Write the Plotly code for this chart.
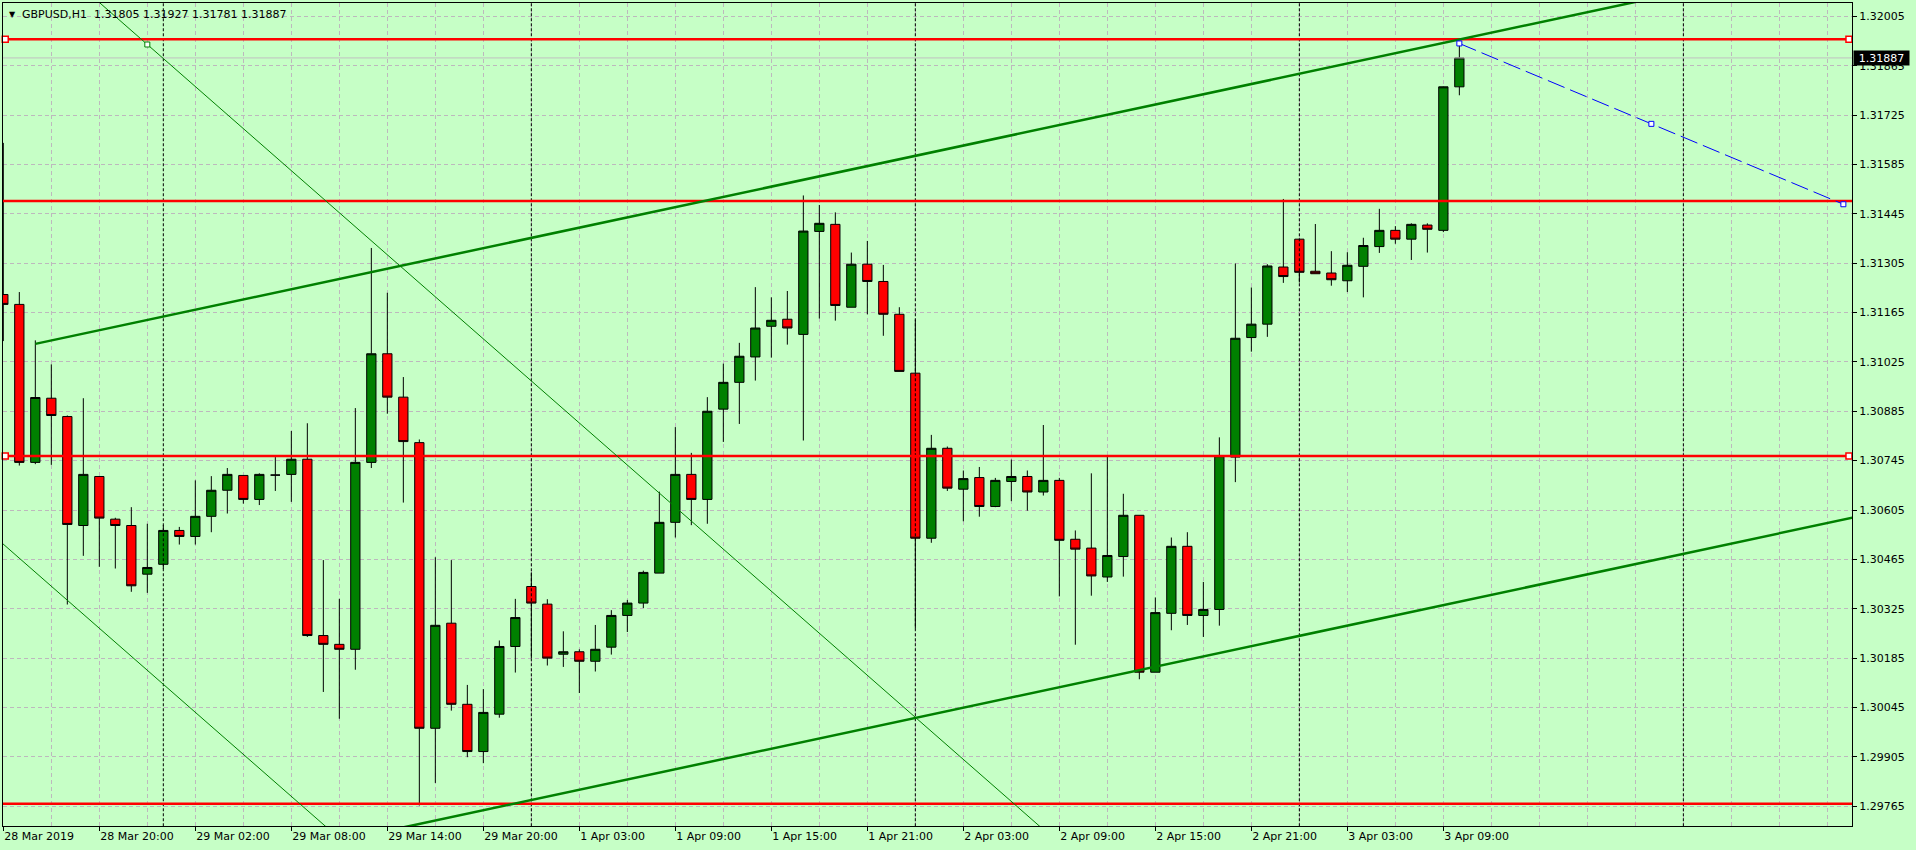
import plotly.graph_objects as go

# ---------------- data ----------------
symbol = "GBPUSD,H1"

opens = [1.31216, 1.31188, 1.30740, 1.30922, 1.30870, 1.30561, 1.30700, 1.30579, 1.30561, 1.30423,
         1.30451, 1.30547, 1.30530, 1.30587, 1.30661, 1.30703, 1.30635, 1.30704, 1.30706, 1.30749,
         1.30249, 1.30224, 1.30210, 1.30740, 1.31048, 1.30925, 1.30796, 1.29986, 1.30284, 1.30054,
         1.29920, 1.30026, 1.30218, 1.30388, 1.30338, 1.30196, 1.30203, 1.30176, 1.30216, 1.30306,
         1.30341, 1.30426, 1.30570, 1.30706, 1.30635, 1.30891, 1.30967, 1.31039, 1.31126, 1.31146,
         1.31103, 1.31395, 1.31415, 1.31180, 1.31302, 1.31253, 1.31160, 1.30993, 1.30525, 1.30780,
         1.30664, 1.30697, 1.30615, 1.30686, 1.30700, 1.30656, 1.30689, 1.30522, 1.30497, 1.30415,
         1.30473, 1.30590, 1.30145, 1.30312, 1.30502, 1.30306, 1.30323, 1.30755, 1.31094, 1.31132,
         1.31294, 1.31373, 1.31282, 1.31277, 1.31255, 1.31296, 1.31352, 1.31398, 1.31373, 1.31413,
         1.31398, 1.31805]
highs = [1.31646, 1.31223, 1.31086, 1.31018, 1.30873, 1.30922, 1.30701, 1.30583, 1.30613, 1.30566,
         1.30562, 1.30557, 1.30689, 1.30701, 1.30724, 1.30703, 1.30709, 1.30755, 1.30829, 1.30851,
         1.30463, 1.30353, 1.30894, 1.31348, 1.31221, 1.30982, 1.30805, 1.30471, 1.30463, 1.30109,
         1.30097, 1.30235, 1.30353, 1.30428, 1.30352, 1.30261, 1.30210, 1.30279, 1.30321, 1.30350,
         1.30433, 1.30657, 1.30840, 1.30767, 1.30925, 1.31020, 1.31079, 1.31237, 1.31208, 1.31226,
         1.31497, 1.31470, 1.31449, 1.31335, 1.31368, 1.31300, 1.31180, 1.31145, 1.30818, 1.30785,
         1.30717, 1.30727, 1.30696, 1.30748, 1.30717, 1.30846, 1.30696, 1.30547, 1.30709, 1.30760,
         1.30651, 1.30590, 1.30357, 1.30527, 1.30542, 1.30401, 1.30811, 1.31304, 1.31236, 1.31302,
         1.31487, 1.31373, 1.31416, 1.31339, 1.31336, 1.31377, 1.31459, 1.31410, 1.31418, 1.31418,
         1.31806, 1.31927]
lows = [1.31084, 1.30731, 1.30735, 1.30733, 1.30337, 1.30475, 1.30444, 1.30439, 1.30373, 1.30370,
        1.30438, 1.30507, 1.30507, 1.30542, 1.30595, 1.30623, 1.30619, 1.30659, 1.30628, 1.30245,
        1.30089, 1.30013, 1.30152, 1.30724, 1.30878, 1.30626, 1.29767, 1.29831, 1.30036, 1.29904,
        1.29887, 1.30016, 1.30144, 1.30185, 1.30164, 1.30160, 1.30086, 1.30147, 1.30195, 1.30259,
        1.30327, 1.30426, 1.30527, 1.30562, 1.30566, 1.30798, 1.30849, 1.30972, 1.31037, 1.31074,
        1.30802, 1.31148, 1.31142, 1.31180, 1.31160, 1.31099, 1.30998, 1.30269, 1.30512, 1.30659,
        1.30573, 1.30586, 1.30613, 1.30630, 1.30603, 1.30646, 1.30360, 1.30223, 1.30362, 1.30401,
        1.30416, 1.30125, 1.30145, 1.30264, 1.30279, 1.30245, 1.30277, 1.30684, 1.31054, 1.31096,
        1.31249, 1.31250, 1.31275, 1.31241, 1.31223, 1.31208, 1.31334, 1.31360, 1.31314, 1.31335,
        1.31393, 1.31781]
closes = [1.31188, 1.30740, 1.30924, 1.30873, 1.30564, 1.30706, 1.30582, 1.30561, 1.30390, 1.30442,
          1.30547, 1.30530, 1.30587, 1.30661, 1.30706, 1.30635, 1.30706, 1.30704, 1.30749, 1.30249,
          1.30224, 1.30210, 1.30740, 1.31048, 1.30925, 1.30799, 1.29986, 1.30278, 1.30054, 1.29920,
          1.30031, 1.30218, 1.30300, 1.30341, 1.30185, 1.30203, 1.30176, 1.30210, 1.30306, 1.30341,
          1.30428, 1.30570, 1.30706, 1.30635, 1.30885, 1.30967, 1.31041, 1.31121, 1.31143, 1.31121,
          1.31396, 1.31418, 1.31185, 1.31302, 1.31253, 1.31160, 1.30998, 1.30525, 1.30780, 1.30667,
          1.30694, 1.30615, 1.30689, 1.30700, 1.30656, 1.30689, 1.30519, 1.30494, 1.30418, 1.30476,
          1.30590, 1.30145, 1.30314, 1.30502, 1.30306, 1.30323, 1.30759, 1.31092, 1.31132, 1.31297,
          1.31267, 1.31279, 1.31275, 1.31258, 1.31299, 1.31355, 1.31398, 1.31373, 1.31415, 1.31401,
          1.31805, 1.31887]

# time axis labels (bar index -> label)
x_tick_index = [0, 6, 12, 18, 24, 30, 36, 42, 48, 54, 60, 66, 72, 78, 84, 90]
x_tick_text = ["28 Mar 2019", "28 Mar 20:00", "29 Mar 02:00", "29 Mar 08:00", "29 Mar 14:00",
               "29 Mar 20:00", "1 Apr 03:00", "1 Apr 09:00", "1 Apr 15:00", "1 Apr 21:00",
               "2 Apr 03:00", "2 Apr 09:00", "2 Apr 15:00", "2 Apr 21:00", "3 Apr 03:00",
               "3 Apr 09:00"]
# price axis labels
y_ticks = [1.29765, 1.29905, 1.30045, 1.30185, 1.30325, 1.30465, 1.30605, 1.30745, 1.30885,
           1.31025, 1.31165, 1.31305, 1.31445, 1.31585, 1.31725, 1.31865, 1.32005]
# day separators (bar index of 00:00)
day_separators = [10, 33, 57, 81, 105]

# horizontal levels
h_levels = [1.31940, 1.31481, 1.30758, 1.29772]
h_handles = [True, False, True, False]

# drawing objects: anchor (bar index, price)
channel_upper_x = [2, 91]
channel_upper_y = [1.31076, 1.31939]
channel_lower_x = [2, 91]
channel_lower_y = [1.29482, 1.30345]
trend_a_x = [9, 65]
trend_a_y = [1.31925, 1.29699]
trend_b_x = [0, 22]
trend_b_y = [1.30508, 1.29634]
proj_x = [91, 103, 115]
proj_y = [1.31928, 1.31700, 1.31472]

# ---------------- styling ----------------
BG = "#C6FFC6"
GRID = "#BDB8BD"
FONT = "DejaVu Sans"
FS = 11
Y_LO, Y_HI = 1.297089, 1.320427
X_LO, X_HI = -0.02, 115.54

fig = go.Figure()

# day separators (under candles)
for s in day_separators:
    fig.add_trace(go.Scatter(x=[s, s], y=[Y_LO - 0.001, Y_HI + 0.001], mode="lines",
                             line=dict(color="black", width=1, dash="3px,2px"),
                             hoverinfo="skip", showlegend=False))

# bid line
fig.add_trace(go.Scatter(x=[X_LO - 1, X_HI + 1], y=[closes[-1], closes[-1]], mode="lines",
                         line=dict(color="#C0C0C0", width=1), hoverinfo="skip", showlegend=False))

n = len(opens)
fig.add_trace(go.Candlestick(
    x=list(range(n)), open=opens, high=highs, low=lows, close=closes,
    increasing=dict(fillcolor="#008000", line=dict(color="black", width=1)),
    decreasing=dict(fillcolor="#FF0000", line=dict(color="black", width=1)),
    whiskerwidth=0, hoverinfo="skip", showlegend=False))


def extend(xs, ys, x0, x1):
    s = (ys[1] - ys[0]) / (xs[1] - xs[0])
    return [x0, x1], [ys[0] + s * (x0 - xs[0]), ys[0] + s * (x1 - xs[0])]


# horizontal red levels
for lv, hd in zip(h_levels, h_handles):
    fig.add_trace(go.Scatter(x=[X_LO - 1, X_HI + 1], y=[lv, lv], mode="lines",
                             line=dict(color="#FF0000", width=2.5), hoverinfo="skip", showlegend=False))
    if hd:
        fig.add_trace(go.Scatter(x=[0.12, 115.35], y=[lv, lv], mode="markers",
                                 marker=dict(symbol="square", size=6, color="white",
                                             line=dict(color="#FF0000", width=1.5)),
                                 cliponaxis=False, hoverinfo="skip", showlegend=False))

# equidistant channel
for cx, cy in [(channel_upper_x, channel_upper_y), (channel_lower_x, channel_lower_y)]:
    lx, ly = extend(cx, cy, cx[0], 140)
    fig.add_trace(go.Scatter(x=lx, y=ly, mode="lines", line=dict(color="#008000", width=2.5),
                             hoverinfo="skip", showlegend=False))

# thin trend lines
for tx, ty, a, b in [(trend_a_x, trend_a_y, -5, 80), (trend_b_x, trend_b_y, -5, 40)]:
    lx, ly = extend(tx, ty, a, b)
    fig.add_trace(go.Scatter(x=lx, y=ly, mode="lines", line=dict(color="#008000", width=1),
                             hoverinfo="skip", showlegend=False))
fig.add_trace(go.Scatter(x=[trend_a_x[0]], y=[trend_a_y[0]], mode="markers",
                         marker=dict(symbol="square", size=5, color="white",
                                     line=dict(color="#008000", width=1)),
                         hoverinfo="skip", showlegend=False))

# projection (blue dashed)
fig.add_trace(go.Scatter(x=proj_x, y=proj_y, mode="lines",
                         line=dict(color="#0000FF", width=1, dash="18px,6px"),
                         hoverinfo="skip", showlegend=False))
fig.add_trace(go.Scatter(x=proj_x, y=proj_y, mode="markers",
                         marker=dict(symbol="square", size=5, color="white",
                                     line=dict(color="#0000FF", width=1)),
                         cliponaxis=False, hoverinfo="skip", showlegend=False))

minor_grid = [v for v in range(0, 117, 3)]

fig.update_layout(
    width=1916, height=850,
    margin=dict(l=3, r=64, t=3, b=24),
    paper_bgcolor=BG, plot_bgcolor=BG,
    showlegend=False, hovermode=False,
    boxgap=0.42, boxgroupgap=0,
    font=dict(family=FONT, size=FS, color="black"),
)
fig.update_xaxes(
    range=[X_LO, X_HI], tickmode="array", tickvals=x_tick_index, ticktext=x_tick_text,
    ticks="outside", ticklen=4, tickcolor="black", tickwidth=1,
    ticklabelposition="outside right",
    showline=True, linecolor="black", linewidth=1, mirror=True,
    showgrid=True, gridcolor=GRID, griddash="4px,3px", gridwidth=1,
    zeroline=False, rangeslider=dict(visible=False), fixedrange=True,
    minor=dict(tickvals=minor_grid, showgrid=True, gridcolor=GRID, griddash="4px,3px",
               gridwidth=1, ticks=""),
    tickfont=dict(family=FONT, size=FS, color="black"),
)
fig.update_yaxes(
    side="right", range=[Y_LO, Y_HI], tickmode="array", tickvals=y_ticks,
    ticktext=[f"{v:.5f}" for v in y_ticks],
    ticks="outside", ticklen=4, tickcolor="black", tickwidth=1,
    showline=True, linecolor="black", linewidth=1, mirror=True,
    showgrid=True, gridcolor=GRID, griddash="4px,3px", gridwidth=1,
    zeroline=False, fixedrange=True,
    tickfont=dict(family=FONT, size=FS, color="black"),
)

# header text
header = f"{symbol}  {opens[-1]:.5f} {highs[-1]:.5f} {lows[-1]:.5f} {closes[-1]:.5f}"
fig.add_annotation(xref="paper", yref="paper", x=0, y=1, xanchor="left", yanchor="top",
                   xshift=17, yshift=-3, text=header, showarrow=False,
                   font=dict(family=FONT, size=FS, color="black"))
fig.add_annotation(xref="paper", yref="paper", x=0, y=1, xanchor="left", yanchor="top",
                   xshift=4, yshift=-5, text="▼", showarrow=False,
                   font=dict(family="DejaVu Sans", size=8, color="black"))

# current bid label on the price axis
fig.add_annotation(xref="paper", yref="y", x=1, y=closes[-1], xanchor="left", yanchor="middle",
                   xshift=1, text=f"{closes[-1]:.5f}", showarrow=False, bgcolor="black",
                   width=55, height=14, borderpad=0,
                   font=dict(family=FONT, size=FS, color="white"))

fig.write_html("out.html", config={"displayModeBar": False},
               post_script="document.body.style.margin='0';document.body.style.background='" + BG + "';")
